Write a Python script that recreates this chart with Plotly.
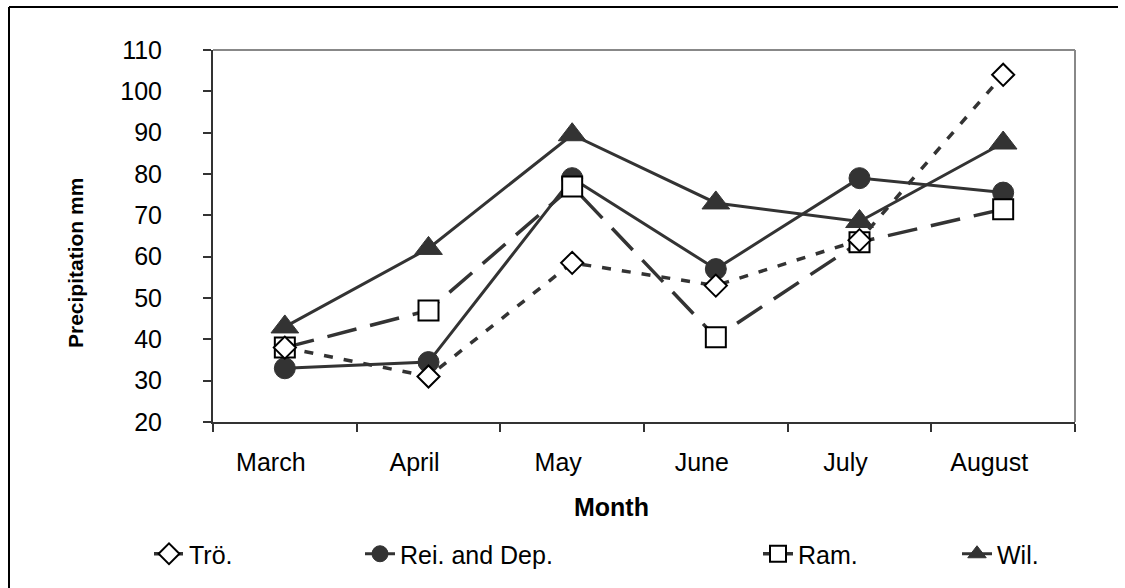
import plotly.graph_objects as go

# Monthly precipitation (mm) at four stations
months = ["March", "April", "May", "June", "July", "August"]
tro = [38, 31, 58.5, 53, 64, 104]
rei_dep = [33, 34.5, 79, 57, 79, 75.5]
ram = [38, 47, 77, 40.5, 63.5, 71.5]
wil = [43, 62, 89.5, 73, 68.5, 87.5]

W, H = 1125, 588
L, R, T, B = 213, 50, 50, 166
PW, PH = W - L - R, H - T - B

FONT = "Liberation Sans, Arial, sans-serif"
INK = "#333333"


def px_x(px):
    return (px - L) / PW


def px_y(py):
    return (H - B - py) / PH


fig = go.Figure()

fig.add_trace(go.Scatter(
    x=months, y=wil, name="Wil.", mode="lines+markers",
    line=dict(color=INK, width=3),
    marker=dict(symbol="triangle-up", size=24, color=INK, line=dict(color=INK, width=1)),
    legend="legend4",
))
fig.add_trace(go.Scatter(
    x=months, y=rei_dep, name="Rei. and Dep.", mode="lines+markers",
    line=dict(color=INK, width=3),
    marker=dict(symbol="circle", size=21, color=INK, line=dict(color=INK, width=1)),
    legend="legend2",
))
fig.add_trace(go.Scatter(
    x=months, y=ram, name="Ram.", mode="lines+markers",
    line=dict(color=INK, width=3.5, dash="30px,14px"),
    marker=dict(symbol="square", size=20, color="white", line=dict(color="black", width=2)),
    legend="legend3",
))
fig.add_trace(go.Scatter(
    x=months, y=tro, name="Trö.", mode="lines+markers",
    line=dict(color=INK, width=3.5, dash="9px,11px"),
    marker=dict(symbol="diamond", size=17, color="white", line=dict(color="black", width=2)),
    legend="legend",
))

legend_common = dict(
    orientation="h", yanchor="middle", xanchor="left",
    font=dict(family=FONT, size=25, color="black"),
    bgcolor="rgba(0,0,0,0)", itemwidth=30,
)
legend_y = px_y(554)

fig.update_layout(
    width=W, height=H,
    margin=dict(l=L, r=R, t=T, b=B, autoexpand=False),
    paper_bgcolor="white", plot_bgcolor="white",
    font=dict(family=FONT, size=25, color="black"),
    showlegend=True,
    legend=dict(x=px_x(149), y=legend_y, **legend_common),
    legend2=dict(x=px_x(360), y=legend_y, **legend_common),
    legend3=dict(x=px_x(758), y=legend_y, **legend_common),
    legend4=dict(x=px_x(957), y=legend_y, **legend_common),
    xaxis=dict(
        type="category", range=[-0.5, 5.5],
        showline=True, linecolor=INK, linewidth=2,
        ticks="outside", tickson="boundaries", ticklen=8, tickwidth=1.5, tickcolor=INK,
        tickfont=dict(family=FONT, size=25, color="black"),
        showgrid=False, zeroline=False, ticklabelshift=-14, ticklabelstandoff=17,
    ),
    yaxis=dict(
        range=[20, 110], dtick=10, tick0=20,
        showline=True, linecolor=INK, linewidth=2,
        ticks="outside", ticklen=8, tickwidth=1.5, tickcolor=INK,
        tickfont=dict(family=FONT, size=25, color="black"),
        showgrid=False, zeroline=False, ticklabelstandoff=36,
    ),
    annotations=[
        dict(text="<b>Precipitation mm</b>", textangle=-90, xref="paper", yref="paper",
             x=px_x(75), y=px_y(263), xanchor="center", yanchor="middle", showarrow=False,
             font=dict(family=FONT, size=21, color="black")),
        dict(text="<b>Month</b>", xref="paper", yref="paper",
             x=px_x(611), y=px_y(507), xanchor="center", yanchor="middle", showarrow=False,
             font=dict(family=FONT, size=25, color="black")),
    ],
    shapes=[
        # plot-area frame (top and right)
        dict(type="line", xref="paper", yref="paper", x0=0, x1=1, y0=1, y1=1,
             line=dict(color="#888888", width=2), layer="below"),
        dict(type="line", xref="paper", yref="paper", x0=1, x1=1, y0=0, y1=1,
             line=dict(color="#888888", width=2), layer="below"),
        # outer chart border
        dict(type="line", xref="paper", yref="paper", x0=px_x(9), x1=px_x(1118),
             y0=px_y(7), y1=px_y(7), line=dict(color="black", width=2)),
        dict(type="line", xref="paper", yref="paper", x0=px_x(9), x1=px_x(9),
             y0=px_y(7), y1=px_y(600), line=dict(color="black", width=2)),
    ],
)

fig.write_html("out.html")
